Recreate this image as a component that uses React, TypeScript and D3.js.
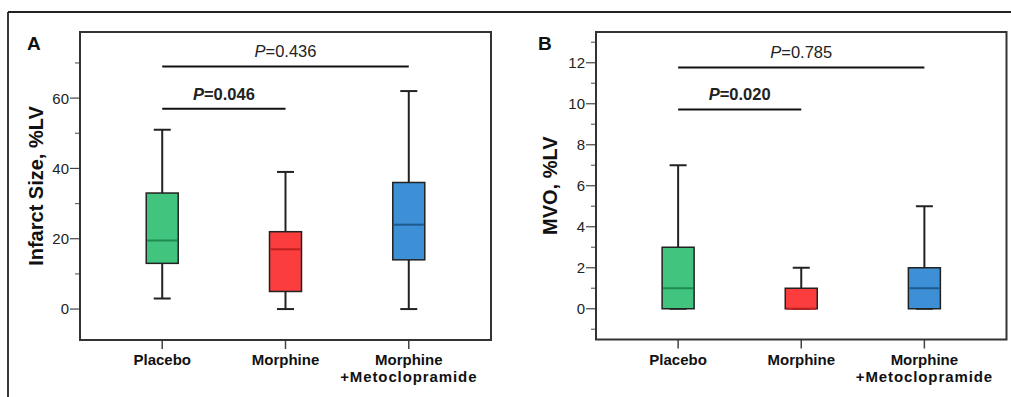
import React from "react";
import * as d3 from "d3";

const categories = ["Placebo", "Morphine", "Morphine\n+Metoclopramide"];
const fills = ["#41c47d", "#fb3d3d", "#3d8fd6"];
const medianColors = ["#1f8a50", "#c01f1f", "#1d5a8e"];

// [min, q1, median, q3, max]
const infarctStats = [
  [3, 13, 19.5, 33, 51],
  [0, 5, 17, 22, 39],
  [0, 14, 24, 36, 62],
];
const mvoStats = [
  [0, 0, 1, 3, 7],
  [0, 0, 0, 1, 2],
  [0, 0, 1, 2, 5],
];

const infarctTicks = [0, 20, 40, 60];
const infarctMinor = [10, 30, 50, 70];
const mvoTicks = [0, 2, 4, 6, 8, 10, 12];
const mvoMinor = [-1, 1, 3, 5, 7, 9, 11, 13];

interface Sig {
  from: number;
  to: number;
  level: number;
  label: string;
  bold: boolean;
}

const infarctSig: Sig[] = [
  { from: 0, to: 2, level: 69, label: "0.436", bold: false },
  { from: 0, to: 1, level: 57, label: "0.046", bold: true },
];
const mvoSig: Sig[] = [
  { from: 0, to: 2, level: 11.77, label: "0.785", bold: false },
  { from: 0, to: 1, level: 9.72, label: "0.020", bold: true },
];

const FONT = "'Liberation Sans', Arial, sans-serif";

interface PanelProps {
  letter: string;
  letterX: number;
  left: number;
  right: number;
  top: number;
  bottom: number;
  domain: [number, number];
  ticks: number[];
  minor: number[];
  stats: number[][];
  sig: Sig[];
  title: string;
  titleX: number;
}

function Panel(p: PanelProps) {
  const y = d3.scaleLinear().domain(p.domain).range([p.bottom, p.top]);
  const x = d3
    .scalePoint<string>()
    .domain(categories)
    .range([p.left, p.right])
    .padding(0.667);
  const boxW = 32;
  const capW = 17;
  const ink = "#222";

  return (
    <g fontFamily={FONT}>
      <text x={p.letterX} y={50} fontSize={19} fontWeight={700} fill="#111">
        {p.letter}
      </text>

      {/* y axis title */}
      <text
        transform={`translate(${p.titleX},${(p.top + p.bottom) / 2}) rotate(-90)`}
        textAnchor="middle"
        dy="0.36em"
        fontSize={20}
        fontWeight={700}
        fill="#111"
      >
        {p.title}
      </text>

      {/* ticks */}
      {p.ticks.map((t) => (
        <g key={"t" + t}>
          <line x1={p.left - 10} x2={p.left} y1={y(t)} y2={y(t)} stroke="#444" strokeWidth={1.2} />
          <text x={p.left - 11} y={y(t)} dy="0.36em" textAnchor="end" fontSize={15} fill="#222">
            {t}
          </text>
        </g>
      ))}
      {p.minor.map((t) => (
        <line key={"m" + t} x1={p.left - 5} x2={p.left} y1={y(t)} y2={y(t)} stroke="#666" strokeWidth={1.2} />
      ))}

      {/* x ticks and labels */}
      {categories.map((c) => (
        <g key={c}>
          <line x1={x(c)} x2={x(c)} y1={p.bottom} y2={p.bottom + 9} stroke="#444" strokeWidth={1.5} />
          {c.split("\n").map((line, i) => (
            <text
              key={i}
              x={x(c)}
              y={365 + i * 16.7}
              textAnchor="middle"
              fontSize={15}
              fontWeight={700}
              letterSpacing={i > 0 ? 0.9 : 0}
              fill="#111"
            >
              {line}
            </text>
          ))}
        </g>
      ))}

      {/* boxes */}
      {p.stats.map((s, i) => {
        const cx = x(categories[i]) as number;
        const [mn, q1, med, q3, mx] = s;
        return (
          <g key={i}>
            <line x1={cx} x2={cx} y1={y(mx)} y2={y(q3)} stroke={ink} strokeWidth={2} />
            <line x1={cx} x2={cx} y1={y(q1)} y2={y(mn)} stroke={ink} strokeWidth={2} />
            <line x1={cx - capW / 2} x2={cx + capW / 2} y1={y(mx)} y2={y(mx)} stroke={ink} strokeWidth={2} />
            <line x1={cx - capW / 2} x2={cx + capW / 2} y1={y(mn)} y2={y(mn)} stroke={ink} strokeWidth={2} />
            <rect
              x={cx - boxW / 2}
              y={y(q3)}
              width={boxW}
              height={y(q1) - y(q3)}
              fill={fills[i]}
              stroke={ink}
              strokeWidth={1.5}
            />
            <line
              x1={cx - boxW / 2 + 1}
              x2={cx + boxW / 2 - 1}
              y1={y(med)}
              y2={y(med)}
              stroke={medianColors[i]}
              strokeWidth={2}
            />
          </g>
        );
      })}

      {/* significance */}
      {p.sig.map((s, i) => {
        const x1 = x(categories[s.from]) as number;
        const x2 = x(categories[s.to]) as number;
        return (
          <g key={i}>
            <line x1={x1} x2={x2} y1={y(s.level)} y2={y(s.level)} stroke="#111" strokeWidth={2} />
            <text
              x={(x1 + x2) / 2}
              y={y(s.level) - 9}
              textAnchor="middle"
              fontSize={16.5}
              fontWeight={s.bold ? 700 : 400}
              fill="#222"
            >
              <tspan fontStyle="italic">P</tspan>={s.label}
            </text>
          </g>
        );
      })}

      {/* plot frame */}
      <rect
        x={p.left}
        y={p.top}
        width={p.right - p.left}
        height={p.bottom - p.top}
        fill="none"
        stroke="#333"
        strokeWidth={2}
      />
    </g>
  );
}

export default function App() {
  return (
    <div style={{ position: "fixed", left: 0, top: 0 }}>
      <svg width={1011} height={397} style={{ display: "block", background: "#fff" }}>
        <line x1={8} x2={1011} y1={12} y2={12} stroke="#222" strokeWidth={1.8} />
        <line x1={8} x2={8} y1={12} y2={397} stroke="#222" strokeWidth={1.8} />
        <Panel
          letter="A"
          letterX={27}
          left={80}
          right={491}
          top={32}
          bottom={340}
          domain={[-8.8, 78.8]}
          ticks={infarctTicks}
          minor={infarctMinor}
          stats={infarctStats}
          sig={infarctSig}
          title="Infarct Size, %LV"
          titleX={36}
        />
        <Panel
          letter="B"
          letterX={538}
          left={596}
          right={1006.5}
          top={32}
          bottom={339.5}
          domain={[-1.5, 13.5]}
          ticks={mvoTicks}
          minor={mvoMinor}
          stats={mvoStats}
          sig={mvoSig}
          title="MVO, %LV"
          titleX={550}
        />
      </svg>
    </div>
  );
}
